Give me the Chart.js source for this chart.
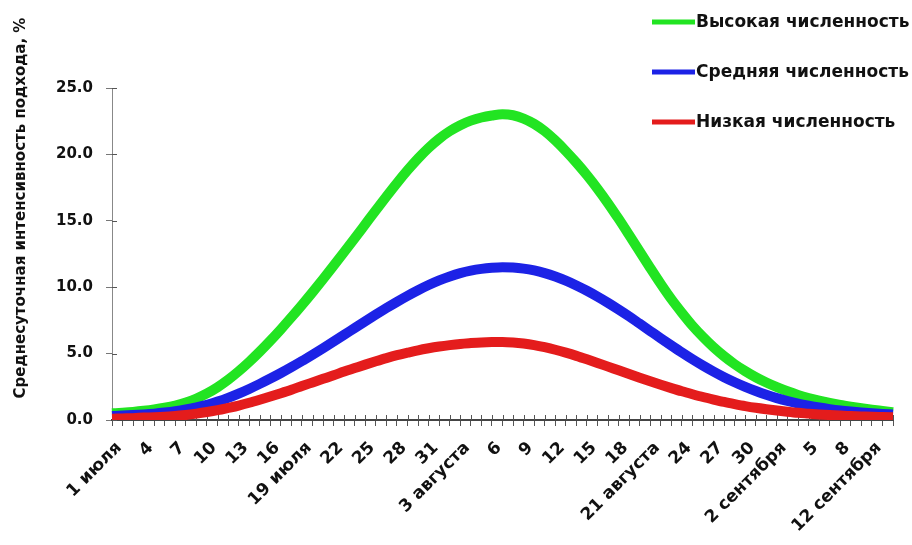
<!DOCTYPE html>
<html>
<head>
<meta charset="utf-8">
<script src="https://cdn.jsdelivr.net/npm/chart.js@4.4.1/dist/chart.umd.min.js"></script>
<style>
  html, body { margin: 0; padding: 0; background: #ffffff; }
  canvas { display: block; }
</style>
</head>
<body>
<canvas id="chart" width="912" height="545"></canvas>
<script>
// Daily approach intensity, 1 July – 13 September
const months = [
  { name: 'июля', first: 1, last: 31 },
  { name: 'августа', first: 1, last: 31 },
  { name: 'сентября', first: 1, last: 13 }
];

const tickLabels = [
  '1 июля', '4', '7', '10', '13', '16', '19 июля', '22', '25', '28', '31',
  '3 августа', '6', '9', '12', '15', '18', '21 августа', '24', '27', '30',
  '2 сентября', '5', '8', '12 сентября'
];
const tickEvery = 3;

const seriesNames = ['Высокая численность', 'Средняя численность', 'Низкая численность'];
const seriesColors = ['#22e422', '#1c22e6', '#e41c1c'];

const highValues = [
  0.50, 0.55, 0.61, 0.69, 0.79, 0.92, 1.09, 1.32, 1.62, 2.00,
  2.47, 3.03, 3.67, 4.38, 5.15, 5.97, 6.83, 7.73, 8.66, 9.62,
  10.61, 11.62, 12.65, 13.69, 14.74, 15.79, 16.83, 17.84, 18.80, 19.69,
  20.49, 21.18, 21.75, 22.20, 22.54, 22.78, 22.93, 23.02, 22.95, 22.70,
  22.30, 21.75, 21.05, 20.25, 19.38, 18.44, 17.42, 16.32, 15.15, 13.93,
  12.69, 11.45, 10.24, 9.10, 8.07, 7.10, 6.25, 5.48, 4.80, 4.20,
  3.68, 3.22, 2.82, 2.47, 2.16, 1.89, 1.66, 1.46, 1.29, 1.14,
  1.01, 0.89, 0.78, 0.68, 0.58
];
const mediumValues = [
  0.30, 0.33, 0.37, 0.42, 0.48, 0.56, 0.66, 0.79, 0.95, 1.15,
  1.39, 1.67, 1.99, 2.34, 2.72, 3.12, 3.54, 3.98, 4.44, 4.92,
  5.41, 5.91, 6.42, 6.93, 7.44, 7.94, 8.43, 8.90, 9.35, 9.77,
  10.16, 10.51, 10.81, 11.06, 11.25, 11.38, 11.46, 11.50, 11.48, 11.40,
  11.26, 11.06, 10.80, 10.49, 10.13, 9.73, 9.29, 8.82, 8.32, 7.80,
  7.25, 6.70, 6.15, 5.61, 5.08, 4.57, 4.09, 3.64, 3.22, 2.84,
  2.49, 2.18, 1.90, 1.65, 1.43, 1.24, 1.08, 0.94, 0.82, 0.72,
  0.64, 0.57, 0.51, 0.46, 0.42
];
const lowValues = [
  0.10, 0.12, 0.14, 0.18, 0.21, 0.25, 0.31, 0.38, 0.48, 0.60,
  0.74, 0.91, 1.09, 1.30, 1.53, 1.77, 2.02, 2.28, 2.56, 2.83,
  3.10, 3.37, 3.65, 3.91, 4.17, 4.42, 4.66, 4.88, 5.07, 5.25,
  5.40, 5.53, 5.64, 5.73, 5.79, 5.84, 5.87, 5.88, 5.84, 5.76,
  5.64, 5.48, 5.29, 5.07, 4.83, 4.57, 4.30, 4.02, 3.74, 3.46,
  3.18, 2.91, 2.65, 2.40, 2.16, 1.94, 1.73, 1.54, 1.36, 1.20,
  1.05, 0.92, 0.81, 0.71, 0.62, 0.54, 0.48, 0.42, 0.37, 0.33,
  0.30, 0.27, 0.24, 0.22, 0.20
];

const yTitle = 'Среднесуточная интенсивность подхода, %';

// one category per day
const categories = [];
months.forEach(m => {
  for (let d = m.first; d <= m.last; d++) categories.push(d + ' ' + m.name);
});

const FONT = "'DejaVu Sans', 'Liberation Sans', sans-serif";
Chart.defaults.font.family = FONT;
Chart.defaults.font.weight = 'bold';
Chart.defaults.color = '#111';

// tick marks that cross the axis lines
const crossTicks = {
  id: 'crossTicks',
  beforeDatasetsDraw(chart) {
    const { ctx } = chart;
    const x = chart.scales.x, y = chart.scales.y;
    ctx.save();
    ctx.lineWidth = 1;
    ctx.strokeStyle = '#555';
    ctx.beginPath();
    x.ticks.forEach((t, i) => {
      const px = Math.round(x.getPixelForTick(i)) + 0.5;
      ctx.moveTo(px, x.top - 5);
      ctx.lineTo(px, x.top);
    });
    y.ticks.forEach((t, i) => {
      const py = Math.round(y.getPixelForTick(i)) + 0.5;
      ctx.moveTo(y.right, py);
      ctx.lineTo(y.right + 5, py);
    });
    ctx.stroke();
    ctx.restore();
  }
};

// vertical axis title and the series key
const annotations = {
  id: 'annotations',
  afterDraw(chart) {
    const { ctx } = chart;
    ctx.save();
    ctx.fillStyle = '#111';
    ctx.font = 'bold 15px ' + FONT;
    ctx.textAlign = 'center';
    ctx.textBaseline = 'middle';
    ctx.translate(21, 208);
    ctx.rotate(-Math.PI / 2);
    ctx.fillText(yTitle, 0, 0);
    ctx.restore();

    ctx.save();
    ctx.font = 'bold 17px ' + FONT;
    ctx.textAlign = 'left';
    ctx.textBaseline = 'middle';
    chart.data.datasets.forEach((ds, i) => {
      const cy = 22 + i * 50;
      ctx.strokeStyle = ds.borderColor;
      ctx.lineWidth = 5;
      ctx.lineCap = 'butt';
      ctx.beginPath();
      ctx.moveTo(652, cy);
      ctx.lineTo(695, cy);
      ctx.stroke();
      ctx.fillStyle = '#111';
      ctx.fillText(ds.label, 696, cy + 1);
    });
    ctx.restore();
  }
};

const valueSets = [highValues, mediumValues, lowValues];

new Chart(document.getElementById('chart'), {
  type: 'line',
  data: {
    labels: categories,
    datasets: seriesNames.map((name, i) => ({
      label: name,
      data: valueSets[i],
      borderColor: seriesColors[i],
      backgroundColor: seriesColors[i],
      borderWidth: 10,
      borderCapStyle: 'butt',
      pointRadius: 0,
      fill: false,
      cubicInterpolationMode: 'monotone',
      order: 3 - i
    }))
  },
  options: {
    responsive: false,
    animation: false,
    devicePixelRatio: 1,
    layout: { padding: { top: 88, right: 19, left: 0, bottom: 0 } },
    plugins: {
      legend: { display: false },
      tooltip: { enabled: false }
    },
    scales: {
      x: {
        type: 'category',
        offset: false,
        border: { display: true, color: '#444', width: 2 },
        grid: { drawOnChartArea: false, drawTicks: true, tickLength: 6, color: '#555', lineWidth: 1 },
        ticks: {
          autoSkip: false,
          maxRotation: 45,
          minRotation: 45,
          padding: 12,
          labelOffset: 7,
          font: { size: 17, weight: 'bold' },
          color: '#111',
          callback: (v, i) => (i % tickEvery === 0 ? (tickLabels[i / tickEvery] || '') : '')
        },
        afterFit(scale) {
          scale.height = 125;
          scale.paddingLeft = 0;
          scale.paddingRight = 0;
        }
      },
      y: {
        min: 0,
        max: 25,
        border: { display: true, color: '#888', width: 1 },
        grid: { drawOnChartArea: false, drawTicks: true, tickLength: 6, color: '#777' },
        ticks: {
          stepSize: 5,
          padding: 13,
          font: { size: 15, weight: 'bold' },
          color: '#111',
          callback: v => Number(v).toFixed(1)
        },
        afterFit(scale) { scale.width = 112; }
      }
    }
  },
  plugins: [crossTicks, annotations]
});
</script>
</body>
</html>
